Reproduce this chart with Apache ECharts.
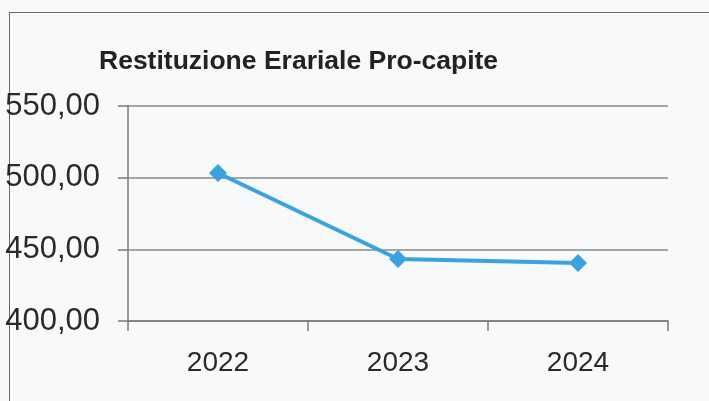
<!DOCTYPE html>
<html><head><meta charset="utf-8">
<script src="https://cdn.jsdelivr.net/npm/echarts@6/dist/echarts.min.js"></script>
<style>
html,body{margin:0;padding:0;background:#f8f9fb;}
#frame{position:absolute;left:9px;top:12px;width:720px;height:420px;border-left:1.5px solid #6a6a6a;border-top:1.5px solid #6a6a6a;}
#c{position:absolute;left:0;top:0;width:709px;height:401px;}
</style></head>
<body>
<div id="frame"></div>
<div id="c"></div>
<script>
const titleText = 'Restituzione Erariale Pro-capite';
const categories = ['2022', '2023', '2024'];
const values = [503.3, 443.3, 440.5];
const yTicks = [400, 450, 500, 550];

const chart = echarts.init(document.getElementById('c'));
chart.setOption({
  backgroundColor: 'transparent',
  animation: false,
  title: {
    text: titleText, left: 94, top: 43,
    textStyle: {fontFamily: 'Liberation Sans', fontWeight: 'bold', fontSize: 26.5, color: '#222'}
  },
  grid: {left: 128, right: 41, top: 106, bottom: 80},
  xAxis: {
    type: 'category', data: categories, boundaryGap: true,
    axisLine: {lineStyle: {color: '#7a7a7a', width: 1.5}},
    axisTick: {show: true, length: 10, lineStyle: {color: '#7a7a7a', width: 1.5}},
    axisLabel: {margin: 28, fontFamily: 'Liberation Sans', fontSize: 28, color: '#2a2a2a'}
  },
  yAxis: {
    type: 'value', min: yTicks[0], max: yTicks[yTicks.length - 1], interval: 50,
    axisLine: {show: true, lineStyle: {color: '#7a7a7a', width: 1.5}},
    axisTick: {show: true, length: 10, lineStyle: {color: '#7a7a7a', width: 1.5}},
    splitLine: {lineStyle: {color: '#8a8a8a', width: 1.5}},
    axisLabel: {margin: 28, fontFamily: 'Liberation Sans', fontSize: 31, color: '#2a2a2a',
      formatter: v => v.toFixed(2).replace('.', ',')}
  },
  series: [{
    type: 'line', data: values,
    lineStyle: {color: '#3aa3df', width: 4},
    itemStyle: {color: '#3aa3df'},
    symbol: 'diamond', symbolSize: 18, showAllSymbol: true
  }]
});
</script>
</body></html>
